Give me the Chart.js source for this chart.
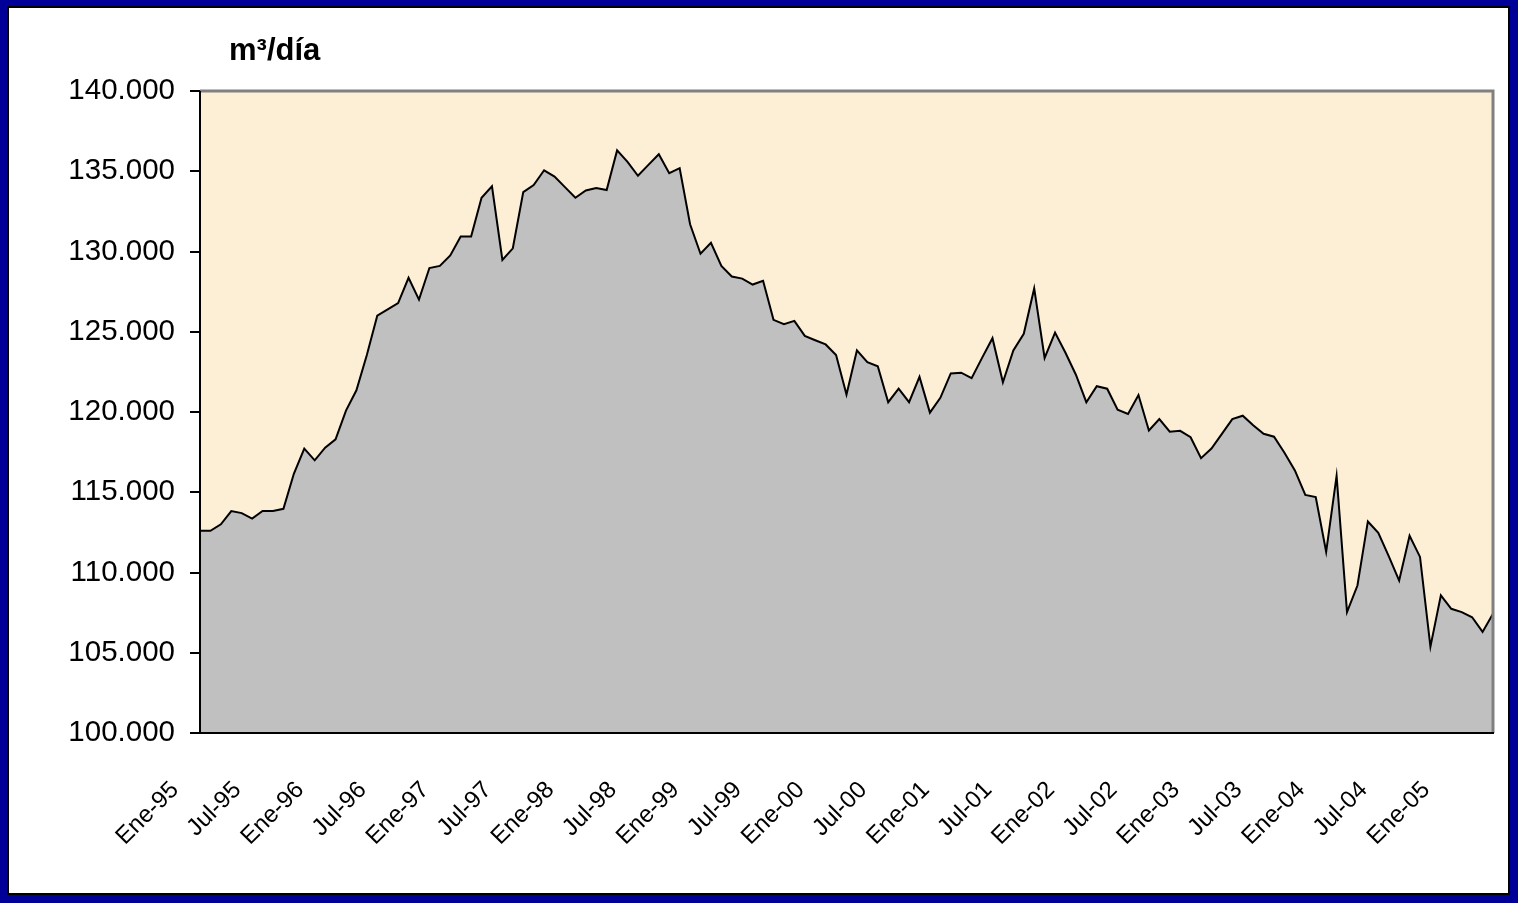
<!DOCTYPE html>
<html>
<head>
<meta charset="utf-8">
<script src="https://cdn.jsdelivr.net/npm/chart.js@4.4.1/dist/chart.umd.min.js"></script>
<style>
    body { margin: 0; background: #000099; width: 1518px; height: 903px; overflow: hidden; }
    #panel { position: absolute; left: 7px; top: 6px; width: 1503px; height: 889px; background: #fff; border: 2px solid #000; box-sizing: border-box; }
    #chart { position: absolute; left: 0; top: 0; }
</style>
</head>
<body>
<div id="panel"></div>
<canvas id="chart" width="1518" height="903"></canvas>
<script>
// m3/dia, monthly, Ene-95 .. May-05
const monthNames = ['Ene', 'Feb', 'Mar', 'Abr', 'May', 'Jun', 'Jul', 'Ago', 'Sep', 'Oct', 'Nov', 'Dic'];
const yearNames = ['95', '96', '97', '98', '99', '00', '01', '02', '03', '04', '05'];

const y1995 = [112600, 112600, 113000, 113830, 113700, 113360, 113830, 113830, 113970, 116150, 117720, 116990];
const y1996 = [117780, 118300, 120090, 121350, 123550, 126000, 126390, 126790, 128360, 127000, 128970, 129100];
const y1997 = [129750, 130940, 130940, 133350, 134060, 129470, 130200, 133700, 134140, 135060, 134670, 134010];
const y1998 = [133350, 133800, 133960, 133830, 136300, 135590, 134720, 135400, 136060, 134880, 135190, 131700];
const y1999 = [129860, 130540, 129100, 128440, 128310, 127940, 128180, 125740, 125470, 125680, 124740, 124470];
const y2000 = [124210, 123550, 121090, 123840, 123110, 122850, 120610, 121450, 120610, 122190, 119960, 120880];
const y2001 = [122400, 122450, 122110, 123370, 124600, 121850, 123840, 124870, 127700, 123370, 124950, 123690];
const y2002 = [122320, 120610, 121610, 121450, 120140, 119880, 121060, 118850, 119560, 118770, 118830, 118430];
const y2003 = [117120, 117720, 118640, 119560, 119770, 119170, 118640, 118460, 117460, 116360, 114830, 114700];
const y2004 = [111290, 116020, 107530, 109190, 113180, 112470, 111020, 109500, 112290, 110970, 105380, 108580];
const y2005 = [107740, 107530, 107210, 106300, 107430];

const values = [].concat(y1995, y1996, y1997, y1998, y1999, y2000, y2001, y2002, y2003, y2004, y2005);

const months = [];
yearNames.forEach(yr => {
    monthNames.forEach(m => {
        if (months.length < values.length) months.push(m + '-' + yr);
    });
});

const yMin = 100000;
const yMax = 140000;
const yStep = 5000;

function fmtThousands(v) {
    return String(v).replace(/\B(?=(\d{3})+(?!\d))/g, '.');
}

const plotFrame = {
    id: 'plotFrame',
    beforeDraw(chart) {
        const { ctx, chartArea: a } = chart;
        ctx.save();
        ctx.fillStyle = '#fcefd6';
        ctx.fillRect(a.left, a.top, a.right - a.left, a.bottom - a.top);
        ctx.restore();
    },
    afterDraw(chart) {
        const { ctx, chartArea: a } = chart;
        ctx.save();
        // top and right edges are grey, axes black
        ctx.strokeStyle = '#808080';
        ctx.lineWidth = 3;
        ctx.beginPath();
        ctx.moveTo(a.left, a.top);
        ctx.lineTo(a.right, a.top);
        ctx.lineTo(a.right, a.bottom);
        ctx.stroke();
        ctx.strokeStyle = '#000';
        ctx.lineWidth = 2;
        ctx.beginPath();
        ctx.moveTo(a.left, a.top);
        ctx.lineTo(a.left, a.bottom);
        ctx.lineTo(a.right + 1, a.bottom);
        ctx.stroke();

        // unit label
        ctx.fillStyle = '#000';
        ctx.font = 'bold 31px "Liberation Sans", Arial, sans-serif';
        ctx.textBaseline = 'alphabetic';
        ctx.textAlign = 'left';
        ctx.fillText('m³/día', 229, 60);
        ctx.restore();
    }
};

const ctx = document.getElementById('chart').getContext('2d');
new Chart(ctx, {
    type: 'line',
    data: {
        labels: months,
        datasets: [{
            data: values,
            borderColor: '#000',
            borderWidth: 2,
            backgroundColor: '#c0c0c0',
            fill: 'start',
            pointRadius: 0,
            tension: 0
        }]
    },
    options: {
        responsive: false,
        animation: false,
        layout: {
            padding: { left: 0, top: 91, right: 25, bottom: 0 }
        },
        plugins: {
            legend: { display: false },
            tooltip: { enabled: false }
        },
        scales: {
            x: {
                offset: false,
                grid: { display: false },
                border: { color: '#000', width: 2 },
                ticks: {
                    autoSkip: false,
                    maxRotation: 45,
                    minRotation: 45,
                    padding: 35,
                    labelOffset: -25,
                    color: '#000',
                    font: { family: '"Liberation Sans", Arial, sans-serif', size: 24 },
                    callback: (v, i) => (i % 6 === 0 ? months[i] : '')
                },
                afterFit: (s) => {
                    s.height = 170;
                    s.paddingLeft = 0;
                    s.paddingRight = 0;
                }
            },
            y: {
                min: yMin,
                max: yMax,
                grid: { drawOnChartArea: false, drawTicks: true, tickLength: 10, color: '#000', lineWidth: 2 },
                border: { color: '#000', width: 2 },
                ticks: {
                    stepSize: yStep,
                    padding: 15,
                    color: '#000',
                    font: { family: '"Liberation Sans", Arial, sans-serif', size: 29.5 },
                    callback: (v) => fmtThousands(v)
                },
                afterFit: (s) => { s.width = 200; }
            }
        }
    },
    plugins: [plotFrame]
});
</script>
</body>
</html>
